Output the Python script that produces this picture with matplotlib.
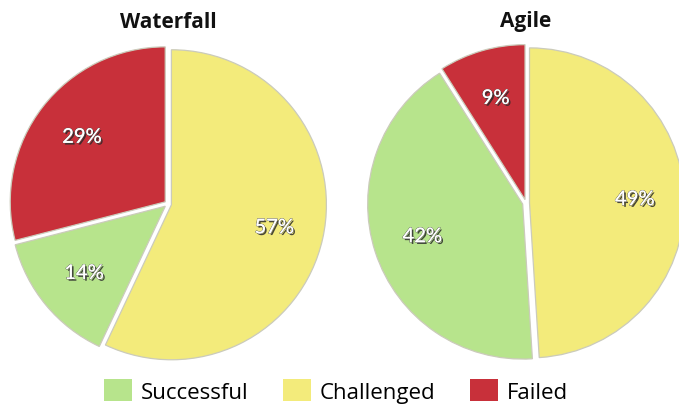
import matplotlib
matplotlib.use("Agg")
import matplotlib.pyplot as plt
import matplotlib.patheffects as pe
from matplotlib.patches import Patch

# slice order as drawn, clockwise from 12 o'clock
slice_names = ["Challenged", "Successful", "Failed"]
waterfall_pct = [57, 14, 29]
agile_pct = [49, 42, 9]

legend_names = ["Successful", "Challenged", "Failed"]
colors = {"Successful": "#B7E48C", "Challenged": "#F3EB7B", "Failed": "#C8303A"}

W, H = 679, 406
R = 155
fig = plt.figure(figsize=(W / 100, H / 100), dpi=100)
ax = fig.add_axes([0, 0, 1, 1])

label_fx = [pe.SimplePatchShadow(offset=(1.3, -1.3), shadow_rgbFace="#2a2a2a", alpha=0.85),
            pe.withStroke(linewidth=0.7, foreground="#555555"), pe.Normal()]

def draw_pie(values, cx, cy, title):
    # explode is an offset in data units, here pixels
    wedges, _, autotexts = ax.pie(
        values,
        colors=[colors[n] for n in slice_names],
        startangle=90,
        counterclock=False,
        explode=[3.5] * len(values),
        center=(cx, H - cy),
        radius=R,
        autopct="%.0f%%",
        pctdistance=0.68,
        wedgeprops=dict(edgecolor="#cbcbbb", linewidth=0.9),
        textprops=dict(color="white", fontsize=14.5, family="Lato"),
    )
    for t in autotexts:
        t.set_path_effects(label_fx)
    ax.text(cx, H - 22, title, ha="center", va="center",
            fontsize=15, fontweight="bold", family="Open Sans", color="#111111")

draw_pie(waterfall_pct, 168, 205, "Waterfall")
draw_pie(agile_pct, 526, 204, "Agile")

ax.set_xlim(0, W)
ax.set_ylim(0, H)
ax.set_aspect("equal")
ax.axis("off")

handles = [Patch(facecolor=colors[n], edgecolor="none") for n in legend_names]
fig.legend(handles, legend_names, loc="center", bbox_to_anchor=(336 / W, 1 - 392 / H),
           ncol=3, frameon=False, handlelength=1.25, handleheight=1.15,
           handletextpad=0.4, columnspacing=1.55, prop=dict(family="Open Sans", size=16))

fig.savefig("out.png", dpi=100)
